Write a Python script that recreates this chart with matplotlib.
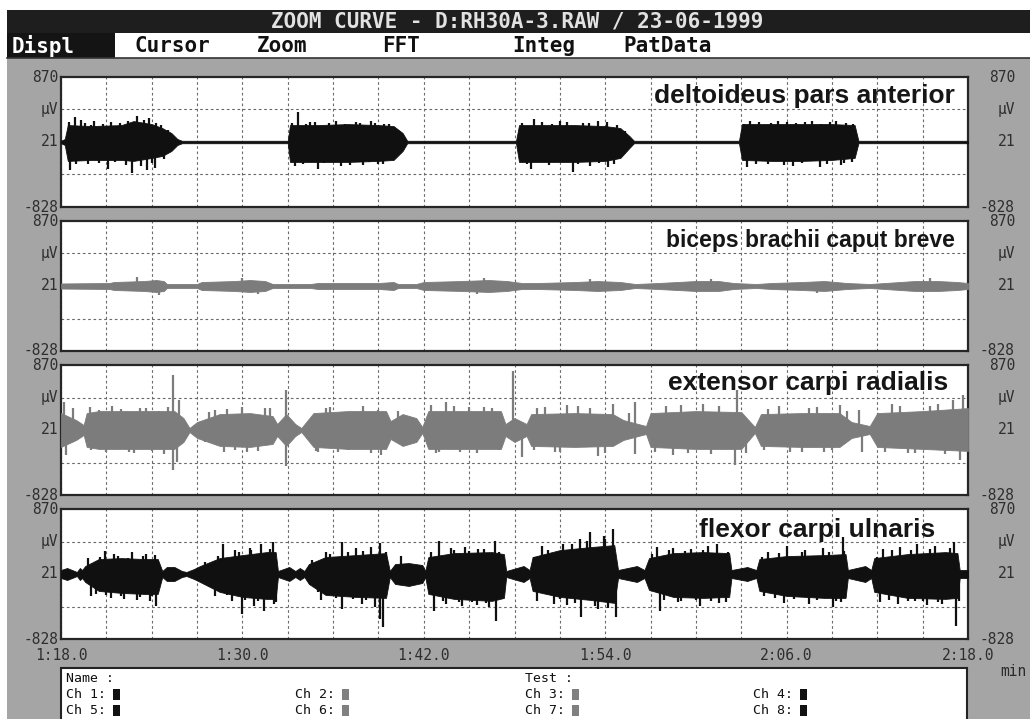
import numpy as np
import matplotlib
matplotlib.use("Agg")
import matplotlib.pyplot as plt
from matplotlib.patches import Rectangle

W, H = 1030, 719

# ---------------------------------------------------------------- data ----
Y_MIN, Y_MID, Y_MAX = -828, 21, 870          # µV
T_END = 60.0                                  # seconds after 1:18.0
time_ticks = [0, 12, 24, 36, 48, 60]
time_labels = ['1:18.0', '1:30.0', '1:42.0', '1:54.0', '2:06.0', '2:18.0']
y_label_vals = [870, 445.5, 21, -828]
y_label_text = ['870', 'µV', '21', '-828']

muscles = ['deltoideus pars anterior', 'biceps brachii caput breve',
           'extensor carpi radialis', 'flexor carpi ulnaris']
channel_colors = ['#101010', '#7c7c7c', '#7c7c7c', '#101010']

# channel 1 - deltoideus pars anterior: burst envelope (µV) and single peaks
ch1_t = [0.0, 0.25, 0.45, 2.0, 4.0, 4.8, 6.0, 6.7, 7.3, 7.7, 8.0,
         15.0, 15.15, 17.0, 19.0, 21.0, 22.0, 22.6, 22.9,
         30.1, 30.3, 32.0, 34.0, 36.0, 37.0, 37.6, 37.9,
         44.85, 45.05, 47.0, 49.0, 51.0, 52.5, 52.75, 60.0]
ch1_hi = [37, 60, 242, 229, 242, 294, 255, 203, 138, 60, 37,
          37, 242, 242, 255, 242, 229, 138, 37,
          37, 242, 242, 242, 229, 203, 99, 37,
          37, 255, 255, 255, 255, 242, 37, 37]
ch1_lo = [5, -18, -226, -213, -213, -226, -187, -161, -96, -18, 5,
          5, -239, -239, -239, -226, -213, -96, 5,
          5, -239, -239, -239, -226, -187, -57, 5,
          5, -213, -226, -226, -213, -187, 5, 5]
ch1_peak_t = [0.5, 0.6, 0.9, 1.0, 1.3, 1.6, 1.8, 2.0, 2.2, 2.5, 2.8, 3.1, 3.3,
              3.6, 3.9, 4.3, 4.4, 4.7, 5.0, 5.3, 5.5, 5.7, 5.8, 6.0, 6.2, 6.3,
              6.6, 6.8, 7.1,
              15.3, 15.5, 15.7, 16.0, 16.2, 16.5, 16.8, 17.0, 17.4, 17.7, 18.2,
              18.5, 18.8, 19.1, 19.5, 19.8, 20.0, 20.4, 20.5, 20.8, 21.0, 21.3,
              21.4, 21.7, 22.2, 22.3,
              30.5, 30.8, 31.1, 31.3, 31.8, 32.3, 32.5, 33.0, 33.5, 33.9, 34.2,
              34.5, 34.9, 35.0, 35.5, 35.6, 36.1, 36.2, 36.6, 36.8, 37.2, 37.3,
              45.2, 45.4, 45.6, 46.0, 46.2, 46.8, 47.0, 47.4, 47.8, 48.0, 48.4,
              48.6, 49.0, 49.2, 49.7, 50.2, 50.3, 50.7, 50.9, 51.3, 51.6, 51.8,
              51.9, 52.3, 52.4]
ch1_peak_v = [281, -343, 346, -265, 307, 268, -265, 242, 294, -252, 255, -330, 281,
              -239, 268, -278, 294, -382, 359, -291, 307, -343, 333, -252, -317, 268,
              242, -200, 177,
              268, -291, 411, -265, 255, 281, 281, -330, -252, 268, 294,
              -291, 255, -278, 281, 268, -278, -239, 294, 268, -265, -265,
              255, 255, -161, 177,
              268, -265, -330, 320, 281, -278, 255, 294, 281, -369, -265,
              268, 268, -291, 294, -252, 281, -304, -265, 242, -135, 164,
              255, -304, 294, -265, 281, -265, 268, 294, -278, 281, -291,
              268, -252, 281, 294, -304, 255, -265, 281, 294, -278, -252,
              268, -239, 255]

# channel 2 - biceps brachii caput breve
ch2_t = [0, 3.2, 3.5, 5.5, 6.3, 6.8, 7.0, 9.0, 9.3, 11.5,
         12.5, 13.5, 14.0, 16.5, 17.0, 21.0, 22.0, 22.3, 23.5, 24.0,
         26.5, 28.3, 29.5, 30.5, 31.5, 34.0, 35.5, 37.0, 38.0, 39.5,
         42.0, 43.5, 44.5, 46.0, 47.0, 49.0, 50.5, 52.0, 53.5, 54.5,
         56.5, 58.0, 59.3, 60]
ch2_hi = [54, 60, 73, 86, 99, 86, 47, 47, 73, 86,
          99, 86, 47, 47, 60, 60, 73, 47, 47, 73,
          86, 99, 86, 60, 60, 73, 86, 73, 47, 60,
          86, 86, 60, 47, 60, 73, 86, 60, 47, 60,
          86, 86, 73, 60]
ch2_lo = [-12, -18, -31, -44, -57, -44, -5, -5, -31, -44,
          -57, -44, -5, -5, -18, -18, -31, -5, -5, -31,
          -44, -57, -44, -18, -18, -31, -44, -31, -5, -18,
          -44, -44, -18, -5, -18, -31, -44, -18, -5, -18,
          -44, -44, -31, -18]
ch2_peak_t = [5.0, 6.5, 12.0, 13.0, 27.5, 28.0, 35.0, 43.0, 50.0, 57.5]
ch2_peak_v = [139, -97, 125, -83, -83, 125, 112, 112, -70, 125]

# channel 3 - extensor carpi radialis
ch3_t = [0.0, 1.0, 1.5, 1.7, 2.5, 5.0, 7.5, 8.1, 8.5, 9.0,
         10.5, 12.5, 14.0, 14.3, 14.9, 15.5, 15.9, 16.7, 19.0, 21.5,
         21.8, 22.6, 23.5, 23.9, 24.3, 27.0, 29.1, 29.4, 30.0, 30.8,
         31.1, 34.0, 36.5, 37.2, 38.7, 39.0, 42.0, 45.0, 45.9, 46.3,
         49.0, 51.5, 52.3, 53.5, 54.0, 57.0, 60.0]
ch3_hi = [242, 151, 86, 242, 268, 268, 268, 177, 47, 125,
          229, 242, 203, 99, 229, 99, 47, 242, 268, 268,
          138, 229, 177, 60, 268, 268, 268, 99, 177, 99,
          229, 242, 229, 151, 73, 242, 268, 255, 60, 229,
          242, 242, 125, 73, 242, 268, 307]
ch3_lo = [-200, -109, -44, -200, -226, -226, -226, -135, -5, -83,
          -187, -200, -161, -57, -187, -57, -5, -200, -226, -226,
          -96, -187, -135, -18, -226, -226, -226, -57, -135, -57,
          -187, -200, -187, -109, -31, -200, -226, -226, -18, -187,
          -200, -200, -83, -31, -200, -226, -252]
ch3_peak_t = [0.2, 0.8, 2.5, 4.0, 5.2, 6.5, 7.4, 7.8, 9.8, 11.0,
              13.5, 14.9, 17.5, 19.5, 21.0, 24.5, 25.5, 27.0, 28.5, 29.9,
              31.5, 33.5, 35.0, 36.5, 38.0, 40.0, 42.5, 44.7, 47.5, 49.5,
              51.5, 52.8, 55.0, 57.5, 59.0, 59.7,
              0.3, 2.0, 4.5, 6.0, 7.4, 7.7, 11.5, 13.0, 14.9, 17.0,
              19.0, 21.2, 25.0, 27.5, 29.0, 30.5, 33.0, 35.5, 38.0, 40.5,
              43.0, 44.6, 46.5, 49.0, 51.0, 53.0, 56.0, 58.5, 59.5,
              1.9, 3.0, 3.4, 4.8, 5.6, 6.8, 7.1, 9.5, 10.2, 10.8,
              12.0, 12.3, 13.8, 16.9, 17.8, 18.3, 20.0, 20.5, 22.3, 24.8,
              26.0, 26.4, 28.0, 31.3, 32.0, 32.7, 34.2, 36.0, 37.6, 39.3,
              41.0, 41.5, 43.5, 45.3, 46.8, 48.2, 50.0, 50.5, 52.0, 54.5,
              55.5, 56.5, 58.0]
ch3_peak_v = [385, 307, 281, 294, 307, 268, 736, 411, 255, 294,
              307, 541, 307, 255, 281, 346, 385, 320, 307, 788,
              307, 346, 307, 359, 385, 333, 359, 541, 333, 307,
              346, 281, 359, 333, 411, 476,
              -304, -239, -265, -252, -499, -395, -239, -252, -447, -265,
              -239, -304, -265, -278, -239, -330, -265, -317, -291, -304,
              -291, -434, -239, -265, -239, -265, -278, -291, -369,
              320, -265, 333, -278, 307, -291, 320, -135, 281, -265,
              320, -265, 307, -252, 320, -265, 333, -278, 268, -278,
              333, -265, 320, -239, 320, -265, 333, -278, 242, -265,
              346, -278, 333, -278, 294, -265, 320, -265, 268, -265,
              333, -278, 359]

# channel 4 - flexor carpi ulnaris
ch4_t = [0.0, 0.4, 0.9, 1.05, 1.25, 1.4, 1.6, 2.5, 4.0, 5.5,
         6.4, 6.7, 7.0, 7.5, 8.0, 8.3, 8.8, 9.2, 10.5, 12.0,
         13.6, 14.2, 14.35, 15.1, 15.5, 15.8, 16.1, 16.4, 17.5, 19.5,
         21.5, 21.75, 22.1, 23.0, 23.9, 24.1, 24.3, 26.0, 28.5, 29.3,
         29.45, 30.6, 31.0, 31.2, 33.0, 35.0, 36.6, 36.85, 38.1, 38.6,
         38.9, 40.5, 42.5, 44.2, 44.35, 45.4, 46.0, 46.2, 48.0, 50.5,
         51.9, 52.05, 53.2, 53.6, 53.8, 56.0, 58.5, 59.3, 59.45, 60.0]
ch4_hi = [73, 99, 60, 47, 99, 73, 125, 216, 229, 216,
          216, 60, 112, 112, 60, 47, 86, 125, 229, 268,
          307, 307, 60, 112, 60, 99, 60, 151, 242, 268,
          294, 60, 151, 164, 138, 60, 242, 294, 307, 281,
          60, 125, 73, 242, 333, 372, 398, 73, 125, 73,
          229, 294, 307, 294, 73, 112, 73, 216, 255, 268,
          281, 73, 125, 73, 229, 281, 307, 294, 73, 73]
ch4_lo = [-31, -57, -18, -5, -57, -31, -83, -200, -226, -239,
          -239, -18, -70, -70, -18, -5, -44, -83, -213, -278,
          -304, -304, -18, -70, -18, -57, -18, -109, -252, -278,
          -291, -18, -109, -135, -96, -18, -239, -304, -330, -291,
          -18, -83, -31, -200, -278, -317, -356, -31, -83, -31,
          -187, -278, -291, -278, -31, -70, -31, -200, -265, -291,
          -291, -31, -83, -31, -213, -291, -304, -291, -31, -31]
ch4_peak_t = [2.9, 3.5, 4.7, 5.6, 6.2, 2.0, 3.3, 4.2, 5.0, 5.9, 6.3,
              10.7, 11.5, 12.5, 13.2, 14.0, 10.2, 11.3, 12.0, 12.8, 13.4, 14.1,
              17.5, 18.6, 19.5, 20.5, 21.1, 17.2, 18.6, 19.9, 20.8, 21.1, 21.3,
              22.5,
              25.0, 25.8, 26.7, 27.6, 28.7, 24.7, 25.5, 26.5, 27.5, 28.3, 28.8,
              31.8, 33.2, 34.3, 35.0, 35.9, 36.5, 31.5, 32.6, 33.5, 34.4, 35.5, 36.7,
              39.4, 40.5, 41.7, 42.8, 43.4, 39.6, 40.8, 42.3, 43.5, 44.0,
              46.8, 48.0, 49.2, 50.4, 51.7, 46.5, 47.8, 49.5, 51.1, 51.6,
              54.4, 55.5, 56.6, 57.8, 59.1, 54.2, 55.4, 56.5, 57.3, 58.3, 59.2,
              1.8, 2.3, 2.6, 3.0, 3.8, 4.0, 4.4, 5.2, 5.4, 6.0,
              9.5, 9.9, 10.4, 11.0, 11.8, 12.2, 12.6, 13.0, 13.8, 14.2,
              16.6, 17.0, 17.8, 18.2, 19.0, 19.3, 20.0, 20.2, 21.5,
              24.5, 25.3, 26.0, 26.3, 27.0, 27.2, 28.0, 28.1, 29.0,
              31.3, 32.0, 32.2, 33.0, 33.8, 34.0, 34.8, 35.3, 36.0, 36.2,
              39.1, 39.9, 40.2, 41.0, 41.3, 42.0, 42.5, 43.0, 44.1,
              46.4, 47.2, 47.5, 48.5, 49.0, 50.0, 50.8, 51.3, 51.8,
              54.0, 54.8, 55.0, 56.0, 56.2, 57.0, 57.5, 58.0, 58.8, 59.4]
ch4_peak_v = [320, 281, 307, 281, 268, -265, -291, -304, -317, -330, -395,
              411, 333, 359, 411, 437, -265, -330, -499, -395, -460, -369,
              307, 437, 359, 372, 424, -317, -434, -369, -408, -564, -668,
              255,
              450, 359, 372, 346, 450, -460, -369, -395, -382, -408, -590,
              385, 411, 476, 567, 515, 606, -330, -369, -382, -538, -434, -538,
              372, 359, 346, 385, 411, -460, -343, -395, -356, -343,
              307, 385, 333, 359, 502, -265, -356, -369, -408, -343,
              346, 372, 411, 385, 437, -343, -369, -330, -382, -369, -655,
              229, -239, 242, -252, 255, -265, 229, -278, 255, -265,
              177, -148, 255, -252, 307, -317, 333, -330, 346, -343,
              203, -213, 281, -291, 307, -304, 320, -317, 307,
              307, -330, 333, -343, 320, -343, 346, -356, 307,
              242, -226, 333, -304, 411, -356, 450, -395, 476, -424,
              281, -317, 333, -330, 320, -317, 333, -330, 307,
              242, -291, 294, -304, 307, -317, 307, -330, 320,
              242, -317, 333, -330, 333, -330, 346, -343, 359, -330]

channels = [
    (ch1_t, ch1_hi, ch1_lo, ch1_peak_t, ch1_peak_v),
    (ch2_t, ch2_hi, ch2_lo, ch2_peak_t, ch2_peak_v),
    (ch3_t, ch3_hi, ch3_lo, ch3_peak_t, ch3_peak_v),
    (ch4_t, ch4_hi, ch4_lo, ch4_peak_t, ch4_peak_v),
]

title = 'ZOOM CURVE - D:RH30A-3.RAW / 23-06-1999'
menu_items = ['Displ', 'Cursor', 'Zoom', 'FFT', 'Integ', 'PatData']
legend_rows = [['Name :', '', 'Test :', ''],
               ['Ch 1:', 'Ch 2:', 'Ch 3:', 'Ch 4:'],
               ['Ch 5:', 'Ch 6:', 'Ch 7:', 'Ch 8:']]
legend_swatch = [['#111111', '#808080', '#808080', '#111111'],
                 ['#111111', '#808080', '#808080', '#111111']]

# -------------------------------------------------------------- styling ---
GRAY = '#a5a5a5'
MONO = 'DejaVu Sans Mono'
SANS = 'Liberation Sans'
PANEL_X0, PANEL_X1 = 61, 968
PANEL_TOPS = [77, 221, 365, 509]
PANEL_H = 130
name_right = [955, 955, 948, 935]
name_base = [26, 26, 25, 28]
name_size = [19, 16.5, 19, 19]


def frac(x0, y0, x1, y1):
    return [x0 / W, 1 - y1 / H, (x1 - x0) / W, (y1 - y0) / H]


fig = plt.figure(figsize=(W / 100, H / 100), dpi=100)
fig.patch.set_facecolor(GRAY)

# screen chrome drawn in pixel coordinates
bg = fig.add_axes([0, 0, 1, 1], zorder=0)
bg.set_xlim(0, W)
bg.set_ylim(H, 0)
bg.axis('off')
bg.add_patch(Rectangle((0, 0), W, 10, color='white', lw=0))
bg.add_patch(Rectangle((0, 0), 7, H, color='white', lw=0))
bg.add_patch(Rectangle((7, 10), W - 7, 23, color='#1e1e1e', lw=0))
bg.add_patch(Rectangle((7, 33), W - 7, 25, color='white', lw=0))
bg.add_patch(Rectangle((7, 33), 108, 25, color='#141414', lw=0))
bg.plot([7, W], [58, 58], color='#333333', lw=1.2)
bg.text(517, 21.5, title, ha='center', va='center', family=MONO,
        weight='bold', size=15, color='#e2e2e2')
menu_x = [12, 135, 257, 382, 512, 623]
for label, mx in zip(menu_items, menu_x):
    bg.text(mx, 46, label, ha='left', va='center', family=MONO, weight='bold',
            size=15, color='white' if label == 'Displ' else '#111111')
bg.text(1000, 672, 'min', ha='left', va='center', family=MONO, size=10.5,
        color='#2a2a2a')

# channel information box
bg.add_patch(Rectangle((61, 668), 906, 70, facecolor='white',
                       edgecolor='#222222', lw=1.5))
col_x = [66, 295, 525, 753]
row_y = [678, 695, 711]
for r, row in enumerate(legend_rows):
    for c, txt in enumerate(row):
        if not txt:
            continue
        bg.text(col_x[c], row_y[r], txt, ha='left', va='center', family=MONO,
                size=9.5, color='#111111')
        if r > 0:
            bg.add_patch(Rectangle((col_x[c] + 47, row_y[r] - 6), 7, 11,
                                   color=legend_swatch[r - 1][c], lw=0))

# EMG panels
for i, (name, col, data) in enumerate(zip(muscles, channel_colors, channels)):
    t_env, hi, lo, pk_t, pk_v = data
    top = PANEL_TOPS[i]
    ax = fig.add_axes(frac(PANEL_X0, top, PANEL_X1, top + PANEL_H), zorder=1)
    ax.set_facecolor('white')
    ax.set_xlim(0, T_END)
    ax.set_ylim(Y_MIN, Y_MAX)
    ax.set_xticks(np.arange(0, T_END + 1, 3))
    ax.set_yticks([Y_MIN + (Y_MAX - Y_MIN) / 4, Y_MIN + 3 * (Y_MAX - Y_MIN) / 4])
    ax.grid(True, color='#6a6a6a', lw=0.8, ls=(0, (2.4, 2.4)))
    ax.set_axisbelow(True)
    ax.tick_params(length=0, labelleft=False, labelbottom=False)
    for sp in ax.spines.values():
        sp.set_color('#262626')
        sp.set_linewidth(1.6)

    ax.fill_between(t_env, lo, hi, color=col, lw=0.6, zorder=3)
    ax.vlines(pk_t, Y_MID, pk_v, color=col, lw=1.6, zorder=3)

    ax.text((name_right[i] - PANEL_X0) / (PANEL_X1 - PANEL_X0),
            1 - name_base[i] / PANEL_H, name, transform=ax.transAxes,
            ha='right', va='baseline', family=SANS, weight='bold',
            size=name_size[i], color='#161616', zorder=5)

    ytr = ax.get_yaxis_transform()
    for yv, yl in zip(y_label_vals, y_label_text):
        ax.text(-3 / 907, yv, yl, transform=ytr, ha='right', va='center',
                family=MONO, size=10.5, color='#2e2e2e', clip_on=False)
        ax.text((1015 - PANEL_X0) / 907, yv, yl, transform=ytr, ha='right',
                va='center', family=MONO, size=10.5, color='#2e2e2e',
                clip_on=False)

    if i == len(muscles) - 1:
        xtr = ax.get_xaxis_transform()
        for tv, tl in zip(time_ticks, time_labels):
            ax.text(tv, -16 / PANEL_H, tl, transform=xtr, ha='center',
                    va='center', family=MONO, size=10.5, color='#2e2e2e',
                    clip_on=False)

fig.savefig('out.png', dpi=100, facecolor=fig.get_facecolor())
